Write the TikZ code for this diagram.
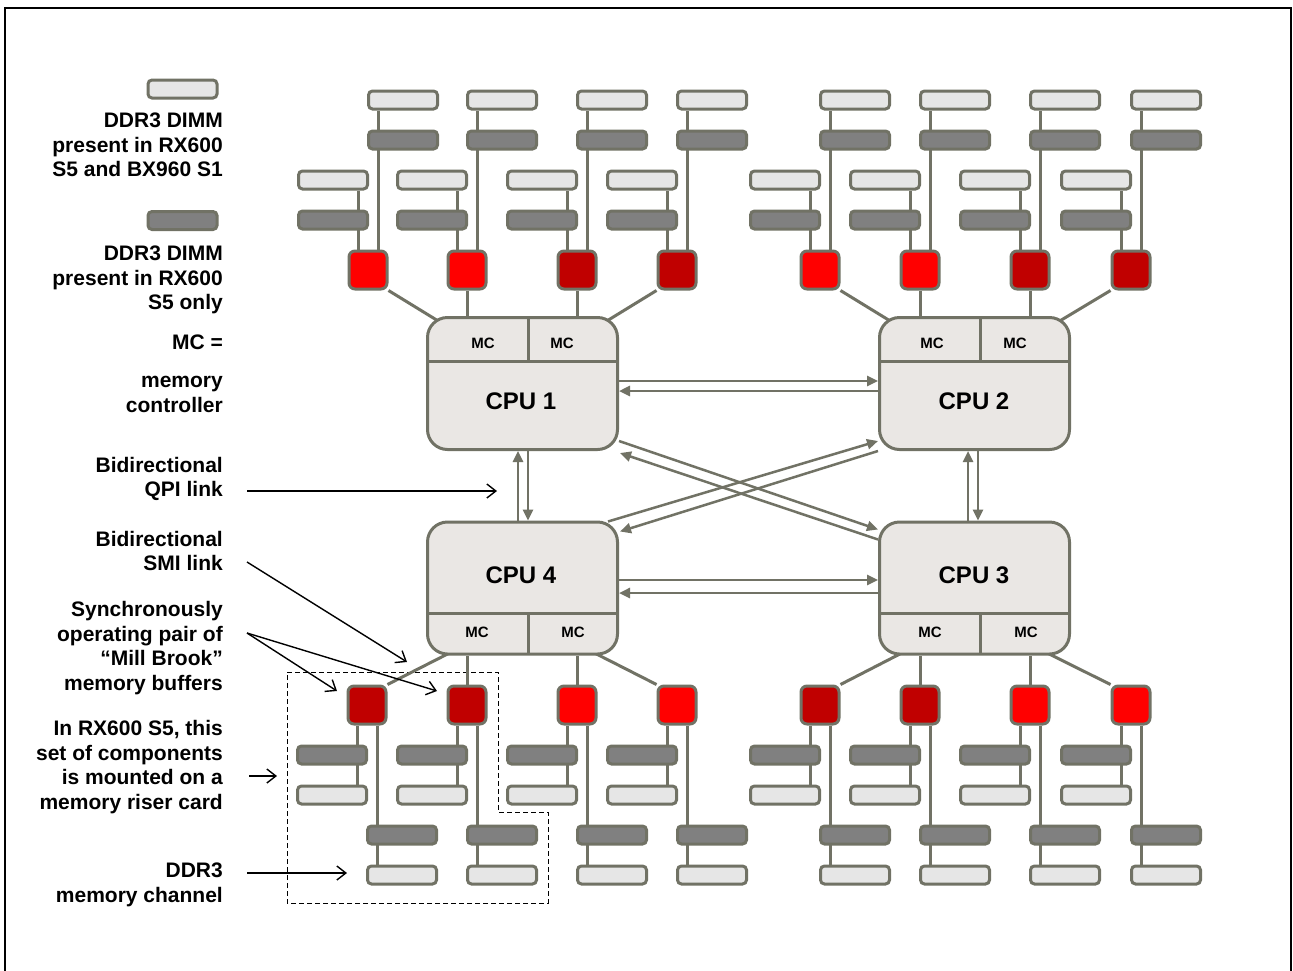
\documentclass[tikz,border=0pt]{standalone}
\usepackage{fontspec}
\setmainfont{Liberation Sans}
\usetikzlibrary{arrows.meta,calc}
\definecolor{edge}{RGB}{113,114,101}
\definecolor{cpufill}{RGB}{234,231,228}
\definecolor{dimmlight}{RGB}{230,230,230}
\definecolor{dimmdark}{RGB}{128,128,128}
\definecolor{redA}{RGB}{255,0,0}
\definecolor{redB}{RGB}{192,0,0}
\pgfdeclarelayer{paper}
\pgfdeclarelayer{bg}
\pgfsetlayers{paper,bg,main}
\newcommand{\topgrp}[3]{%
  \node[buf,fill=#3] (#1) at (#2,270) {};
  \node[dimmL] (#1il) at (#2-35,180) {};
  \node[dimmD] (#1id) at (#2-35,220) {};
  \node[dimmL] (#1ol) at (#2+35,100) {};
  \node[dimmD] (#1od) at (#2+35,140) {};
  \begin{pgfonlayer}{bg}
    \draw[conn] ([xshift=-10pt]#1.north) -- ([xshift=25pt]#1il.south);
    \draw[conn] ([xshift=10pt]#1.north) -- ([xshift=-25pt]#1ol.south);
  \end{pgfonlayer}}
\newcommand{\botgrp}[3]{%
  \node[buf,fill=#3] (#1) at (#2,705) {};
  \node[dimmD] (#1id) at (#2-35,755) {};
  \node[dimmL] (#1il) at (#2-35,795) {};
  \node[dimmD] (#1od) at (#2+35,835) {};
  \node[dimmL] (#1ol) at (#2+35,875) {};
  \begin{pgfonlayer}{bg}
    \draw[conn] ([xshift=-10pt]#1.south) -- ([xshift=25pt]#1il.north);
    \draw[conn] ([xshift=10pt]#1.south) -- ([xshift=-25pt]#1ol.north);
  \end{pgfonlayer}}
\begin{document}
\begin{tikzpicture}[x=1pt,y=-1pt,
  dimmL/.style={draw=edge, line width=3pt, fill=dimmlight, rounded corners=4pt,
    minimum width=69pt, minimum height=18pt, inner sep=0pt},
  dimmD/.style={dimmL, fill=dimmdark},
  buf/.style={draw=edge, line width=3pt, rounded corners=6pt,
    minimum width=38pt, minimum height=38pt, inner sep=0pt},
  cpu/.style={draw=edge, line width=3pt, fill=cpufill, rounded corners=20pt,
    minimum width=190pt, minimum height=132pt, inner sep=0pt},
  conn/.style={draw=edge, line width=3pt},
  divider/.style={draw=edge, line width=3pt},
  qpi/.style={draw=edge, line width=2.5pt, -{Triangle[length=11pt,width=10pt]}},
  note/.style={font=\bfseries\fontsize{21}{24.5}\selectfont, align=right, anchor=east, inner sep=0pt},
  pointer/.style={draw=black, line width=1.4pt, -{Straight Barb[length=9pt,width=14pt]}},
  mc/.style={font=\bfseries\fontsize{15}{18}\selectfont, inner sep=0pt},
  cpulab/.style={font=\bfseries\fontsize{24}{28}\selectfont, inner sep=0pt}]
\useasboundingbox (0,0) rectangle (1293,970);
\begin{pgfonlayer}{paper}
\fill[white] (0,0) rectangle (1293,970);
\end{pgfonlayer}
\draw[black, line width=2pt] (5,980) -- (5,8) -- (1291,8) -- (1291,980);

% riser outline (behind connectors)
\begin{pgfonlayer}{bg}
\draw[black, line width=1pt, dash pattern=on 5pt off 3pt]
  (287,672) -- (498,672) -- (498,812) -- (548,812) -- (548,903) -- (287,903) -- cycle;
\end{pgfonlayer}

% legend
\node[dimmL] (legL) at (182.5,89) {};
\node[note] (t1) at (223,145) {DDR3 DIMM\\present in RX600\\S5 and BX960 S1};
\node[dimmD] (legD) at (182.5,220.5) {};
\node[note] (t2) at (223,280) {DDR3 DIMM\\present in RX600\\S5 only};
\node[note] (t3) at (223,374) {MC =\\[13.5pt]memory\\controller};
\node[note] (t4) at (223,479) {Bidirectional\\QPI link};
\node[note] (t5) at (223,551) {Bidirectional\\SMI link};
\node[note] (t6) at (223,648) {Synchronously\\operating pair of\\``Mill Brook''\\memory buffers};
\node[note] (t7) at (223,767) {In RX600 S5, this\\set of components\\is mounted on a\\memory riser card};
\node[note] (t8) at (223,885) {DDR3\\memory channel};

% CPUs
\node[cpu] (cpu1) at (522.5,383.5) {};
\node[cpu] (cpu2) at (974.5,383.5) {};
\node[cpu] (cpu4) at (522.5,588) {};
\node[cpu] (cpu3) at (974.5,588) {};
\draw[divider] (cpu1.west |- 0,361) -- (cpu1.east |- 0,361);
\draw[divider] (528,316) -- (528,361);
\draw[divider] (cpu2.west |- 0,361) -- (cpu2.east |- 0,361);
\draw[divider] (980,316) -- (980,361);
\draw[divider] (cpu4.west |- 0,613) -- (cpu4.east |- 0,613);
\draw[divider] (528,613) -- (528,655);
\draw[divider] (cpu3.west |- 0,613) -- (cpu3.east |- 0,613);
\draw[divider] (980,613) -- (980,655);
\node[mc] (m1a) at (483,343) {MC};
\node[mc] (m1b) at (562,343) {MC};
\node[mc] (m2a) at (932,343) {MC};
\node[mc] (m2b) at (1015,343) {MC};
\node[mc] (m4a) at (477,632) {MC};
\node[mc] (m4b) at (573,632) {MC};
\node[mc] (m3a) at (930,632) {MC};
\node[mc] (m3b) at (1026,632) {MC};
\node[cpulab] (l1) at (521,401) {CPU 1};
\node[cpulab] (l2) at (974,401) {CPU 2};
\node[cpulab] (l4) at (521,575) {CPU 4};
\node[cpulab] (l3) at (974,575) {CPU 3};

% memory groups
\topgrp{a1}{368}{redA}
\topgrp{a2}{467}{redA}
\topgrp{a3}{577}{redB}
\topgrp{a4}{677}{redB}
\topgrp{a5}{820}{redA}
\topgrp{a6}{920}{redA}
\topgrp{a7}{1030}{redB}
\topgrp{a8}{1131}{redB}
\botgrp{b1}{367}{redB}
\botgrp{b2}{467}{redB}
\botgrp{b3}{577}{redA}
\botgrp{b4}{677}{redA}
\botgrp{b5}{820}{redB}
\botgrp{b6}{920}{redB}
\botgrp{b7}{1030}{redA}
\botgrp{b8}{1131}{redA}

% SMI links buffer -> CPU
\begin{pgfonlayer}{bg}
\draw[conn] (a1.south east) -- ([xshift=53pt,yshift=-30pt]cpu1.north west);
\draw[conn] (a2.south) -- (a2.south |- cpu1.north);
\draw[conn] (a3.south) -- (a3.south |- cpu1.north);
\draw[conn] (a4.south west) -- ([xshift=-53pt,yshift=-30pt]cpu1.north east);
\draw[conn] (a5.south east) -- ([xshift=53pt,yshift=-30pt]cpu2.north west);
\draw[conn] (a6.south) -- (a6.south |- cpu2.north);
\draw[conn] (a7.south) -- (a7.south |- cpu2.north);
\draw[conn] (a8.south west) -- ([xshift=-53pt,yshift=-30pt]cpu2.north east);
\draw[conn] (b1.north east) -- ([xshift=52pt,yshift=17pt]cpu4.south west);
\draw[conn] (b2.north) -- (b2.north |- cpu4.south);
\draw[conn] (b3.north) -- (b3.north |- cpu4.south);
\draw[conn] (b4.north west) -- ([xshift=-53pt,yshift=17pt]cpu4.south east);
\draw[conn] (b5.north east) -- ([xshift=52pt,yshift=17pt]cpu3.south west);
\draw[conn] (b6.north) -- (b6.north |- cpu3.south);
\draw[conn] (b7.north) -- (b7.north |- cpu3.south);
\draw[conn] (b8.north west) -- ([xshift=-53pt,yshift=17pt]cpu3.south east);
\end{pgfonlayer}

% QPI links
\draw[qpi] ([yshift=2.5pt]cpu1.east) -- ([yshift=2.5pt]cpu2.west);
\draw[qpi] ([yshift=-7.5pt]cpu2.west) -- ([yshift=-7.5pt]cpu1.east);
\draw[qpi] ([yshift=8pt]cpu4.east) -- ([yshift=8pt]cpu3.west);
\draw[qpi] ([yshift=-5pt]cpu3.west) -- ([yshift=-5pt]cpu4.east);
\draw[qpi] ([xshift=-4.5pt]cpu4.north) -- ([xshift=-4.5pt]cpu1.south);
\draw[qpi] ([xshift=5.5pt]cpu1.south) -- ([xshift=5.5pt]cpu4.north);
\draw[qpi] ([xshift=-6.5pt]cpu3.north) -- ([xshift=-6.5pt]cpu2.south);
\draw[qpi] ([xshift=3.5pt]cpu2.south) -- ([xshift=3.5pt]cpu3.north);
\draw[qpi] ([yshift=10pt]cpu1.south east) -- ([yshift=-9pt]cpu3.north west);
\draw[qpi] ([yshift=-19pt]cpu3.north west) -- ([xshift=1pt,yshift=-2pt]cpu1.south east);
\draw[qpi] ([xshift=-11pt,yshift=-1pt]cpu4.north east) -- ([yshift=10pt]cpu2.south west);
\draw[qpi] (cpu2.south west) -- ([xshift=1pt,yshift=-11pt]cpu4.north east);

% pointers
\coordinate (p4s) at (247,491); \coordinate (p4e) at (497,491);
\coordinate (p5s) at (247,562); \coordinate (p5e) at (407,662);
\coordinate (p6s) at (247,633); \coordinate (p6e) at (337,691); \coordinate (p6f) at (437,691);
\coordinate (p7s) at (249,776); \coordinate (p7e) at (277,776);
\coordinate (p8s) at (247,873); \coordinate (p8e) at (347,873);
\draw[pointer] (p4s) -- (p4e);
\draw[pointer] (p5s) -- (p5e);
\draw[pointer] (p6s) -- (p6e);
\draw[pointer] (p6s) -- (p6f);
\draw[pointer] (p7s) -- (p7e);
\draw[pointer] (p8s) -- (p8e);
\end{tikzpicture}
\end{document}
